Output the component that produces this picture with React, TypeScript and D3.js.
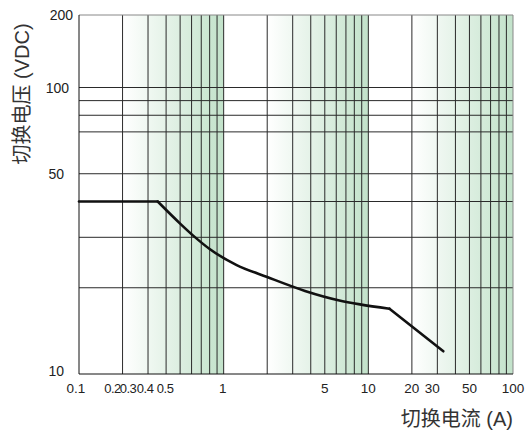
import React from "react";
import * as d3 from "d3";

// ---- data ----
const flatA = [0.1, 0.35];
const flatV = [40, 40];
const curveA = [0.35, 0.5, 0.63, 0.8, 1.23, 2, 3.65, 6.2, 8.75, 14];
const curveV = [40, 33.5, 30.1, 27.3, 24.0, 21.8, 19.5, 18.1, 17.5, 16.9];
const tailA = [14, 33];
const tailV = [16.9, 12];

const xTickValues = [0.1, 0.2, 0.3, 0.4, 0.5, 1, 5, 10, 20, 30, 50, 100];
const xTickLabels = ["0.1", "0.2", "0.3", "0.4", "0.5", "1", "5", "10", "20", "30", "50", "100"];
const yTickValues = [10, 50, 100, 200];
const yTickLabels = ["10", "50", "100", "200"];
const xGridValues = [
  0.2, 0.3, 0.4, 0.5, 0.6, 0.7, 0.8, 0.9, 1,
  2, 3, 4, 5, 6, 7, 8, 9, 10,
  20, 30, 40, 50, 60, 70, 80, 90,
];
const yGridValues = [20, 30, 40, 50, 70, 80, 90, 100];
const shadeBands = [[0.2, 1], [2, 10], [20, 100]];

const xTitle = "切换电流 (A)";
const yTitle = "切换电压 (VDC)";

// ---- layout ----
const W = 531;
const H = 430;
const left = 79;
const right = 513;
const top = 15;
const bottom = 374;
const xLabelDx: Record<string, number> = { "0.1": -3, "0.2": -10, "0.3": -20, "0.4": -21, "0.5": -15, "1": -1, "30": -5 };
const tightLabels = new Set(["0.2", "0.3", "0.4", "0.5"]);
const yLabelRight: Record<string, number> = { "10": 64, "50": 64, "100": 69, "200": 73 };

export default function App() {
  const x = d3.scaleLog().domain([0.1, 100]).range([left, right]);
  const y = d3.scaleLog().domain([10, 100, 200]).range([bottom, 87.5, top]);

  const mk = (xs: number[], curve: d3.CurveFactory) =>
    d3
      .line<number>()
      .x((_, i) => x(xs[i]))
      .y((d) => y(d))
      .curve(curve);

  const font = "'Liberation Sans', Arial, 'Noto Sans CJK SC', sans-serif";
  const curveStyle = { fill: "none", stroke: "#111", strokeWidth: 2.6, strokeLinejoin: "round" as const, strokeLinecap: "round" as const };

  return (
    <svg width={W} height={H} style={{ position: "absolute", left: 0, top: 0 }} fontFamily={font}>
      <defs>
        <linearGradient id="shade" x1="0" x2="1" y1="0" y2="0">
          <stop offset="0" stopColor="#ffffff" />
          <stop offset="1" stopColor="#c2e2ca" />
        </linearGradient>
      </defs>
      <rect x={0} y={0} width={W} height={H} fill="#fff" />
      {shadeBands.map(([a, b], i) => (
        <rect key={i} x={x(a)} y={top} width={x(b) - x(a)} height={bottom - top} fill="url(#shade)" />
      ))}
      {xGridValues.map((v, i) => (
        <line key={"gx" + i} x1={x(v)} x2={x(v)} y1={top} y2={bottom} stroke="#2a2a2a" strokeWidth={1} />
      ))}
      {yGridValues.map((v, i) => (
        <line key={"gy" + i} x1={left} x2={right} y1={y(v)} y2={y(v)} stroke="#2a2a2a" strokeWidth={1} />
      ))}
      <line x1={left} x2={right} y1={top} y2={top} stroke="#888" strokeWidth={1} />
      <line x1={right} x2={right} y1={top} y2={bottom} stroke="#888" strokeWidth={1} />
      <line x1={left} x2={left} y1={top} y2={bottom} stroke="#111" strokeWidth={1} />
      <line x1={left} x2={right} y1={bottom} y2={bottom} stroke="#111" strokeWidth={1} />

      <path d={mk(flatA, d3.curveLinear)(flatV) || ""} {...curveStyle} />
      <path d={mk(curveA, d3.curveMonotoneX)(curveV) || ""} {...curveStyle} />
      <path d={mk(tailA, d3.curveLinear)(tailV) || ""} {...curveStyle} />

      {xTickValues.map((v, i) => {
        const lab = xTickLabels[i];
        const tight = tightLabels.has(lab);
        return (
          <text
            key={"xt" + i}
            x={x(v) + (xLabelDx[lab] || 0)}
            y={393}
            textAnchor="middle"
            fontSize={tight ? 13 : 13.5}
            letterSpacing={tight ? -0.5 : 0}
            fill="#222"
          >
            {lab}
          </text>
        );
      })}
      {yTickValues.map((v, i) => (
        <text
          key={"yt" + i}
          x={yLabelRight[yTickLabels[i]]}
          y={y(v) + (v === 10 ? 1 : 4) + 1}
          textAnchor="end"
          fontSize={14}
          fill="#222"
        >
          {yTickLabels[i]}
        </text>
      ))}

      <text x={right} y={426} textAnchor="end" fontSize={20} fill="#333">
        {xTitle}
      </text>
      <text transform={`translate(29, 94) rotate(-90)`} textAnchor="middle" fontSize={20} fill="#333">
        {yTitle}
      </text>
    </svg>
  );
}
